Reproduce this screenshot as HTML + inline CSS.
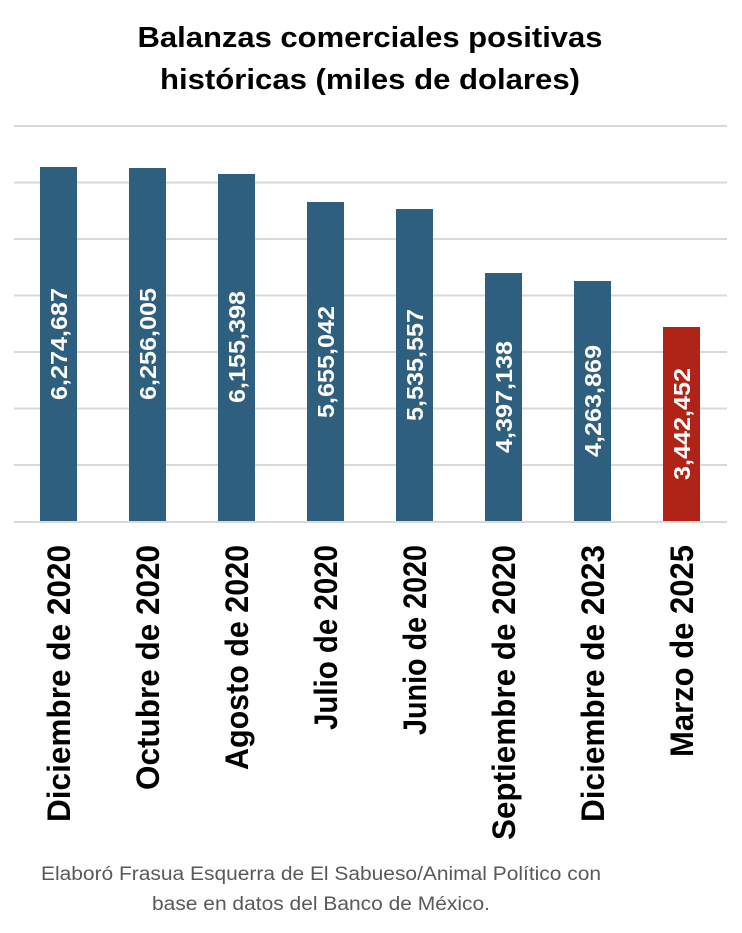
<!DOCTYPE html>
<html><head><meta charset="utf-8"><style>html,body{margin:0;padding:0;background:#fff}</style></head>
<body>
<svg width="742" height="928" xmlns="http://www.w3.org/2000/svg" font-family="Liberation Sans, sans-serif">
<g font-weight="bold" font-size="29" text-anchor="middle" fill="#000">
<text x="370" y="47" textLength="465" lengthAdjust="spacingAndGlyphs">Balanzas comerciales positivas</text>
<text x="370" y="89" textLength="420" lengthAdjust="spacingAndGlyphs">históricas (miles de dolares)</text>
</g>
<g stroke="#d9d9d9" stroke-width="2">
<line x1="14" x2="727" y1="126" y2="126"/><line x1="14" x2="727" y1="182.5" y2="182.5"/>
<line x1="14" x2="727" y1="239" y2="239"/><line x1="14" x2="727" y1="295.5" y2="295.5"/>
<line x1="14" x2="727" y1="352" y2="352"/><line x1="14" x2="727" y1="408.5" y2="408.5"/>
<line x1="14" x2="727" y1="465" y2="465"/><line x1="14" x2="727" y1="522" y2="522"/>
</g>
<g fill="#2F5F7F">
<rect x="40" y="167" width="37" height="354"/>
<rect x="129" y="168" width="37" height="353"/>
<rect x="218" y="174" width="37" height="347"/>
<rect x="307" y="202" width="37" height="319"/>
<rect x="396" y="209" width="37" height="312"/>
<rect x="485" y="273" width="37" height="248"/>
<rect x="574" y="281" width="37" height="240"/>
</g>
<rect x="663" y="327" width="37" height="194" fill="#B02418"/>
<g fill="#fff" font-weight="bold" font-size="23" text-anchor="middle">
<text transform="translate(67,344) rotate(-90)" textLength="112" lengthAdjust="spacingAndGlyphs">6,274,687</text>
<text transform="translate(156,344) rotate(-90)" textLength="112" lengthAdjust="spacingAndGlyphs">6,256,005</text>
<text transform="translate(245,347) rotate(-90)" textLength="112" lengthAdjust="spacingAndGlyphs">6,155,398</text>
<text transform="translate(334,362) rotate(-90)" textLength="112" lengthAdjust="spacingAndGlyphs">5,655,042</text>
<text transform="translate(423,365) rotate(-90)" textLength="112" lengthAdjust="spacingAndGlyphs">5,535,557</text>
<text transform="translate(512,397) rotate(-90)" textLength="112" lengthAdjust="spacingAndGlyphs">4,397,138</text>
<text transform="translate(601,401) rotate(-90)" textLength="112" lengthAdjust="spacingAndGlyphs">4,263,869</text>
<text transform="translate(690,424) rotate(-90)" textLength="112" lengthAdjust="spacingAndGlyphs">3,442,452</text>
</g>
<g fill="#000" font-weight="bold" font-size="32" text-anchor="end">
<text transform="translate(70,545) rotate(-90)" textLength="277" lengthAdjust="spacingAndGlyphs">Diciembre de 2020</text>
<text transform="translate(159,545) rotate(-90)" textLength="245" lengthAdjust="spacingAndGlyphs">Octubre de 2020</text>
<text transform="translate(248,545) rotate(-90)" textLength="225" lengthAdjust="spacingAndGlyphs">Agosto de 2020</text>
<text transform="translate(337,545) rotate(-90)" textLength="185" lengthAdjust="spacingAndGlyphs">Julio de 2020</text>
<text transform="translate(426,545) rotate(-90)" textLength="190" lengthAdjust="spacingAndGlyphs">Junio de 2020</text>
<text transform="translate(515,545) rotate(-90)" textLength="295" lengthAdjust="spacingAndGlyphs">Septiembre de 2020</text>
<text transform="translate(604,545) rotate(-90)" textLength="277" lengthAdjust="spacingAndGlyphs">Diciembre de 2023</text>
<text transform="translate(693,545) rotate(-90)" textLength="212" lengthAdjust="spacingAndGlyphs">Marzo de 2025</text>
</g>
<g fill="#595959" font-size="19" text-anchor="middle">
<text x="321" y="880" textLength="560" lengthAdjust="spacingAndGlyphs">Elaboró Frasua Esquerra de El Sabueso/Animal Político con</text>
<text x="321" y="910" textLength="338" lengthAdjust="spacingAndGlyphs">base en datos del Banco de México.</text>
</g>
</svg>
</body></html>
